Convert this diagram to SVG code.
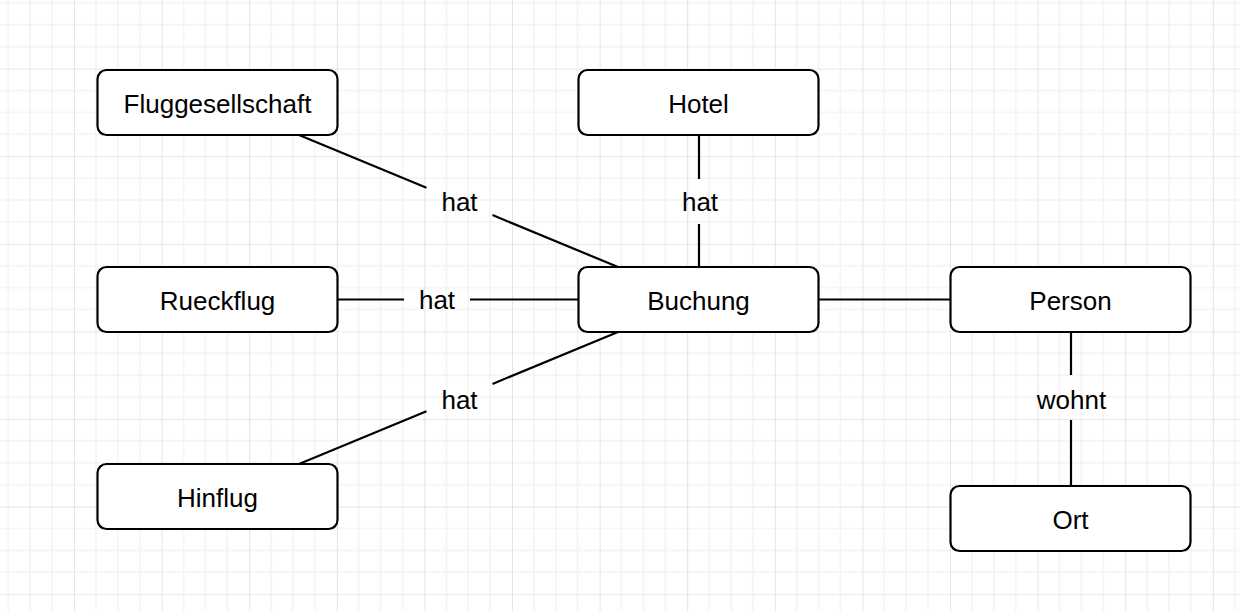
<svg xmlns="http://www.w3.org/2000/svg" width="1240" height="611" viewBox="0 0 1240 611">
  <defs>
    <pattern id="grid" patternUnits="userSpaceOnUse" x="74" y="68.6" width="87.6" height="87.6">
      <path d="M21.9 0V87.6M43.8 0V87.6M65.7 0V87.6M0 21.9H87.6M0 43.8H87.6M0 65.7H87.6" stroke="#ededed" stroke-width="1" fill="none"/>
      <path d="M0 0V87.6M0 0H87.6" stroke="#d2d2d2" stroke-width="1.2" fill="none"/>
    </pattern>
  </defs>
  <style>
    .node rect { fill: #ffffff; stroke: #000000; stroke-width: 2.2; }
    .node text, .label { font-family: "Liberation Sans", Arial, Helvetica, sans-serif; font-size: 26px; fill: #000000; text-anchor: middle; }
    #connectors path { stroke: #000000; stroke-width: 2.2; fill: none; }
  </style>
  <rect width="1240" height="611" fill="#ffffff"/>
  <rect width="1240" height="611" fill="url(#grid)"/>

  <g id="connectors">
    <path d="M299 135L426.5 187.8M492.5 215.1L618 267"/>
    <path d="M699 135V179M699 224V267"/>
    <path d="M338 299.5H404M470 299.5H579"/>
    <path d="M299 464L426.5 411.2M492.5 383.9L618 332"/>
    <path d="M819 299.5H951"/>
    <path d="M1071 332V375M1071 420V486"/>
    <text class="label" x="459.5" y="211">hat</text>
    <text class="label" x="700" y="211">hat</text>
    <text class="label" x="437" y="309">hat</text>
    <text class="label" x="459.5" y="408.5">hat</text>
    <text class="label" x="1071.5" y="408.5">wohnt</text>
  </g>

  <g id="node-fluggesellschaft" class="node">
    <rect x="97.5" y="70" width="240" height="65" rx="9"/>
    <text x="217.5" y="112.5">Fluggesellschaft</text>
  </g>
  <g id="node-hotel" class="node">
    <rect x="578.5" y="70" width="240" height="65" rx="9"/>
    <text x="698.5" y="112.5">Hotel</text>
  </g>
  <g id="node-rueckflug" class="node">
    <rect x="97.5" y="267" width="240" height="65" rx="9"/>
    <text x="217.5" y="309.5">Rueckflug</text>
  </g>
  <g id="node-buchung" class="node">
    <rect x="578.5" y="267" width="240" height="65" rx="9"/>
    <text x="698.5" y="309.5">Buchung</text>
  </g>
  <g id="node-person" class="node">
    <rect x="950.5" y="267" width="240" height="65" rx="9"/>
    <text x="1070.5" y="309.5">Person</text>
  </g>
  <g id="node-hinflug" class="node">
    <rect x="97.5" y="464" width="240" height="65" rx="9"/>
    <text x="217.5" y="506.5">Hinflug</text>
  </g>
  <g id="node-ort" class="node">
    <rect x="950.5" y="486" width="240" height="65" rx="9"/>
    <text x="1070.5" y="528.5">Ort</text>
  </g>
</svg>
